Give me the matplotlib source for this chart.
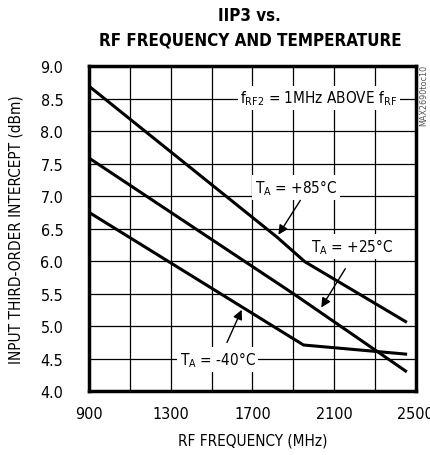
import matplotlib.pyplot as plt
import numpy as np

plt.rcParams['font.family'] = ['DejaVu Sans']
plt.rcParams['font.stretch'] = 'condensed'
plt.rcParams['mathtext.default'] = 'regular'

# IIP3 curves
freq_85 = [900, 1820, 1957, 2450]
iip3_85 = [8.69, 6.37, 5.99, 5.07]
freq_25 = [900, 1900, 2450]
iip3_25 = [7.585, 5.50, 4.31]
freq_m40 = [900, 1950, 2450]
iip3_m40 = [6.75, 4.71, 4.57]

x_ticks = [900, 1300, 1700, 2100, 2500]
y_ticks = [4.0, 4.5, 5.0, 5.5, 6.0, 6.5, 7.0, 7.5, 8.0, 8.5, 9.0]

fig = plt.figure(figsize=(4.3, 4.56), dpi=100)
ax = fig.add_axes([0.207, 0.140, 0.760, 0.713])

ax.plot(freq_85, iip3_85, color='black', lw=2.2)
ax.plot(freq_25, iip3_25, color='black', lw=2.2)
ax.plot(freq_m40, iip3_m40, color='black', lw=2.2)

ax.set_xlim(900, 2500)
ax.set_ylim(4.0, 9.0)
ax.set_xticks(np.arange(900, 2501, 200), minor=True)
ax.set_xticks(x_ticks)
ax.set_yticks(y_ticks)
ax.set_yticklabels(['%.1f' % v for v in y_ticks])
ax.grid(True, which='both', color='black', lw=0.9)
ax.tick_params(which='both', length=0, labelsize=11.5)
ax.tick_params(axis='x', pad=11)
ax.tick_params(axis='y', pad=18.5)
for s in ax.spines.values():
    s.set_linewidth(2.5)

ax.set_xlabel('RF FREQUENCY (MHz)', fontsize=11, labelpad=8)
ax.set_ylabel('INPUT THIRD-ORDER INTERCEPT (dBm)', fontsize=11, labelpad=12)

# two-line bold title, centred over the plot area
fig.text(0.581, 0.965, 'IIP3 vs.', fontsize=12.2, fontweight='bold',
         ha='center', va='center')
fig.text(0.581, 0.912, 'RF FREQUENCY AND TEMPERATURE', fontsize=12.2,
         fontweight='bold', ha='center', va='center')

box = dict(fc='white', ec='none', pad=2)
ax.text(2025, 8.51, 'f$_{RF2}$ = 1MHz ABOVE f$_{RF}$', fontsize=11,
        ha='center', va='center', bbox=box)

ax.text(1915, 7.13, 'T$_{A}$ = +85°C', fontsize=11, ha='center', va='center', bbox=box)
ax.annotate('', xy=(1820, 6.37), xytext=(1942, 6.97),
            arrowprops=dict(arrowstyle='-|>', color='black', lw=1, mutation_scale=14))

ax.text(2187, 6.23, 'T$_{A}$ = +25°C', fontsize=11, ha='center', va='center', bbox=box)
ax.annotate('', xy=(2030, 5.25), xytext=(2162, 5.92),
            arrowprops=dict(arrowstyle='-|>', color='black', lw=1, mutation_scale=14))

ax.text(1530, 4.49, 'T$_{A}$ = -40°C', fontsize=11, ha='center', va='center', bbox=box)
ax.annotate('', xy=(1653, 5.29), xytext=(1570, 4.71),
            arrowprops=dict(arrowstyle='-|>', color='black', lw=1, mutation_scale=14))

fig.text(0.985, 0.79, 'MAX2690toc10', rotation=90, fontsize=6.5,
         ha='center', va='center', color='#555555')

fig.savefig('out.png', dpi=100)
